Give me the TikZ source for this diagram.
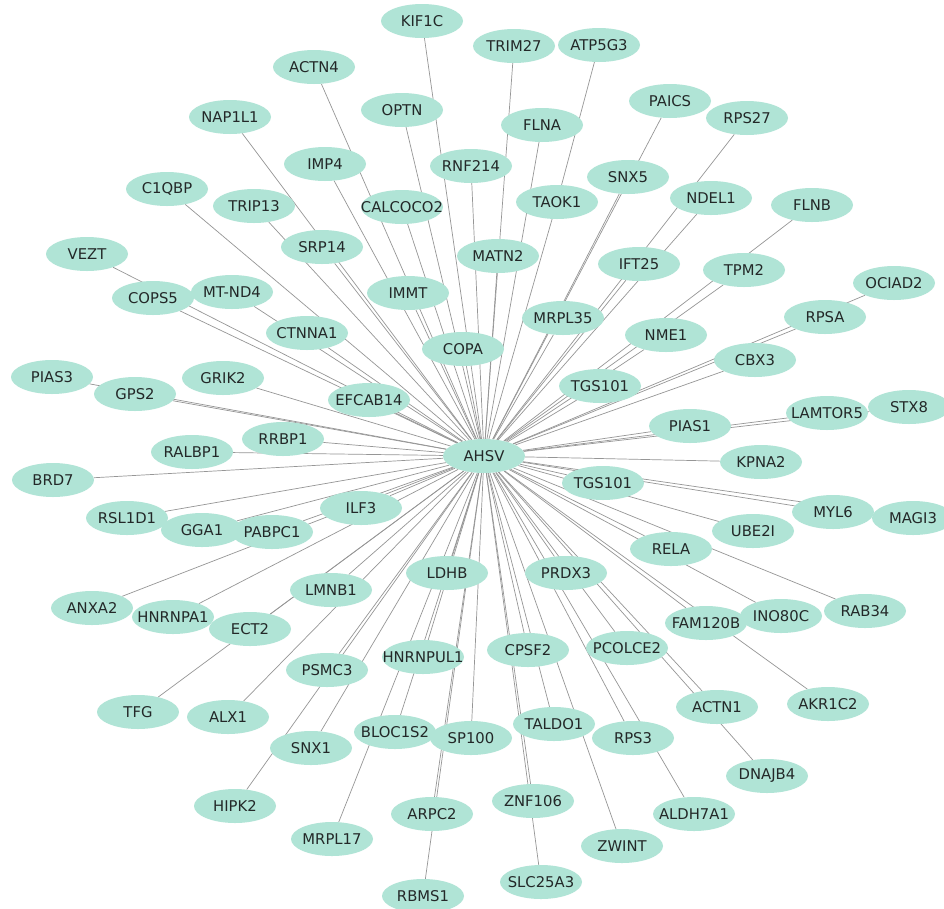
\documentclass[tikz,border=0pt]{standalone}
\usepackage{fontspec}
\newfontfamily\lbl{DejaVu Sans}
\usetikzlibrary{shapes.geometric}
\pgfdeclarelayer{edgelayer}
\pgfdeclarelayer{textlayer}
\pgfsetlayers{edgelayer,main,textlayer}
\definecolor{nodefill}{RGB}{176,228,214}
\definecolor{labelcol}{RGB}{35,40,40}
\definecolor{edgecol}{RGB}{150,150,150}
\tikzset{
  gene/.style={ellipse, fill=nodefill, draw=none, minimum width=82pt, minimum height=34pt, inner sep=0pt},
  genelabel/.style={inner sep=0pt, text=labelcol, font=\lbl\fontsize{14.8}{16}\selectfont},
  edge/.style={draw=edgecol, line width=0.7pt}
}
\newcommand\gn[4]{\node[gene] (#1) at (#2,#3) {};
  \begin{pgfonlayer}{textlayer}\node[genelabel] at (#2,#3) {#4};\end{pgfonlayer}}
\begin{document}
\begin{tikzpicture}[x=1pt,y=-1pt]
\useasboundingbox (0,0) rectangle (944,908);
\begin{pgfonlayer}{edgelayer}
\fill[white] (0,0) rectangle (944,908);
\end{pgfonlayer}
\gn{KIF1C}{422}{21}{KIF1C}
\gn{TRIM27}{514}{46}{TRIM27}
\gn{ATP5G3}{599}{45}{ATP5G3}
\gn{ACTN4}{314}{67}{ACTN4}
\gn{PAICS}{670}{101}{PAICS}
\gn{RPS27}{747}{118}{RPS27}
\gn{NAP1L1}{230}{117}{NAP1L1}
\gn{OPTN}{402}{110}{OPTN}
\gn{FLNA}{542}{125}{FLNA}
\gn{IMP4}{325}{164}{IMP4}
\gn{RNF214}{471}{166}{RNF214}
\gn{SNX5}{628}{177}{SNX5}
\gn{C1QBP}{167}{189}{C1QBP}
\gn{TRIP13}{254}{206}{TRIP13}
\gn{CALCOCO2}{402}{207}{CALCOCO2}
\gn{TAOK1}{557}{202}{TAOK1}
\gn{NDEL1}{711}{198}{NDEL1}
\gn{FLNB}{812}{205}{FLNB}
\gn{VEZT}{87}{254}{VEZT}
\gn{SRP14}{322}{247}{SRP14}
\gn{MATN2}{498}{256}{MATN2}
\gn{IFT25}{639}{264}{IFT25}
\gn{TPM2}{744}{270}{TPM2}
\gn{COPS5}{153}{298}{COPS5}
\gn{MTND4}{232}{292}{MT-ND4}
\gn{IMMT}{408}{293}{IMMT}
\gn{OCIAD2}{894}{283}{OCIAD2}
\gn{MRPL35}{563}{318}{MRPL35}
\gn{RPSA}{825}{317}{RPSA}
\gn{CTNNA1}{307}{333}{CTNNA1}
\gn{NME1}{666}{335}{NME1}
\gn{COPA}{463}{349}{COPA}
\gn{CBX3}{755}{360}{CBX3}
\gn{PIAS3}{52}{377}{PIAS3}
\gn{GPS2}{135}{394}{GPS2}
\gn{GRIK2}{223}{378}{GRIK2}
\gn{EFCAB14}{369}{400}{EFCAB14}
\gn{TGSa}{600}{386}{TGS101}
\gn{PIAS1}{690}{426}{PIAS1}
\gn{LAMTOR5}{827}{413}{LAMTOR5}
\gn{STX8}{909}{407}{STX8}
\gn{RALBP1}{192}{452}{RALBP1}
\gn{RRBP1}{283}{439}{RRBP1}
\gn{AHSV}{484}{456}{AHSV}
\gn{KPNA2}{761}{462}{KPNA2}
\gn{BRD7}{53}{480}{BRD7}
\gn{TGSb}{603}{483}{TGS101}
\gn{MYL6}{833}{512}{MYL6}
\gn{MAGI3}{913}{518}{MAGI3}
\gn{RSL1D1}{127}{518}{RSL1D1}
\gn{ILF3}{361}{508}{ILF3}
\gn{GGA1}{202}{530}{GGA1}
\gn{PABPC1}{272}{532}{PABPC1}
\gn{UBE2I}{753}{531}{UBE2I}
\gn{RELA}{671}{549}{RELA}
\gn{ANXA2}{92}{608}{ANXA2}
\gn{LDHB}{447}{573}{LDHB}
\gn{PRDX3}{566}{573}{PRDX3}
\gn{HNRNPA1}{173}{617}{HNRNPA1}
\gn{LMNB1}{331}{590}{LMNB1}
\gn{ECT2}{250}{629}{ECT2}
\gn{FAM120B}{706}{623}{FAM120B}
\gn{INO80C}{781}{616}{INO80C}
\gn{RAB34}{865}{611}{RAB34}
\gn{PCOLCE2}{627}{648}{PCOLCE2}
\gn{CPSF2}{528}{650}{CPSF2}
\gn{HNRNPUL1}{423}{657}{HNRNPUL1}
\gn{PSMC3}{327}{670}{PSMC3}
\gn{TFG}{138}{712}{TFG}
\gn{ALX1}{228}{717}{ALX1}
\gn{AKR1C2}{828}{704}{AKR1C2}
\gn{ACTN1}{717}{707}{ACTN1}
\gn{TALDO1}{554}{724}{TALDO1}
\gn{BLOC1S2}{395}{732}{BLOC1S2}
\gn{SP100}{471}{738}{SP100}
\gn{RPS3}{633}{738}{RPS3}
\gn{SNX1}{311}{748}{SNX1}
\gn{DNAJB4}{767}{776}{DNAJB4}
\gn{HIPK2}{235}{806}{HIPK2}
\gn{ARPC2}{432}{814}{ARPC2}
\gn{ZNF106}{533}{801}{ZNF106}
\gn{ALDH7A1}{694}{814}{ALDH7A1}
\gn{MRPL17}{332}{839}{MRPL17}
\gn{ZWINT}{622}{846}{ZWINT}
\gn{RBMS1}{423}{896}{RBMS1}
\gn{SLC25A3}{541}{882}{SLC25A3}
\begin{pgfonlayer}{edgelayer}
\foreach \n in {KIF1C,TRIM27,ACTN4,PAICS,RPS27,NAP1L1,OPTN,FLNA,IMP4,RNF214,SNX5,C1QBP,TRIP13,CALCOCO2,TAOK1,NDEL1,FLNB,VEZT,SRP14,MATN2,IFT25,TPM2,COPS5,MTND4,IMMT,OCIAD2,MRPL35,RPSA,CTNNA1,NME1,COPA,CBX3,PIAS3,GPS2,GRIK2,EFCAB14,TGSa,PIAS1,LAMTOR5,STX8,RALBP1,RRBP1,KPNA2,BRD7,TGSb,MYL6,MAGI3,RSL1D1,ILF3,GGA1,PABPC1,UBE2I,RELA,ANXA2,LDHB,PRDX3,HNRNPA1,LMNB1,ECT2,FAM120B,INO80C,RAB34,PCOLCE2,CPSF2,HNRNPUL1,PSMC3,TFG,ALX1,AKR1C2,ACTN1,TALDO1,BLOC1S2,SP100,RPS3,SNX1,DNAJB4,HIPK2,ARPC2,ZNF106,ALDH7A1,MRPL17,ZWINT,RBMS1,SLC25A3}
  \draw[edge] (\n) -- (AHSV);
\draw[edge] (ATP5G3) -- (TAOK1);
\end{pgfonlayer}
\end{tikzpicture}
\end{document}
